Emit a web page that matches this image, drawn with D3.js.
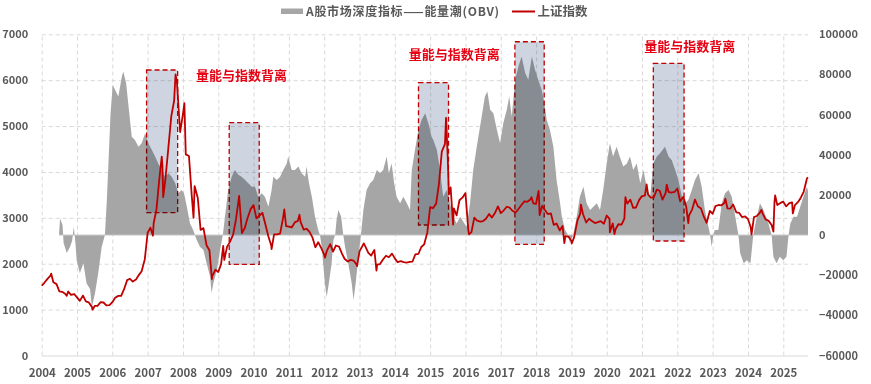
<!DOCTYPE html>
<html>
<head>
<meta charset="utf-8">
<script src="https://cdn.jsdelivr.net/npm/d3@7"></script>
<style>
  body { margin: 0; background: #fff; }
  text { font-family: "Noto Sans CJK SC", "Noto Sans", sans-serif; }
</style>
</head>
<body>
<div id="container"></div>
<script>
/* CONSTANTS AND GLOBALS */
const width = 871,
      height = 384,
      margin = {top: 34.3, right: 63, bottom: 28.5, left: 41.7};

// year ticks and axis ticks
const yearTicks = d3.range(2004, 2026);
const leftTicks = [0, 1000, 2000, 3000, 4000, 5000, 6000, 7000];
const rightTicks = [-60000, -40000, -20000, 0, 20000, 40000, 60000, 80000, 100000];

// 上证指数 [decimal year, close]
const sse = [
  [2004.00,1520],[2004.08,1590],[2004.17,1675],[2004.25,1742],[2004.27,1783],[2004.33,1595],[2004.42,1555],[2004.50,1399],[2004.58,1387],[2004.67,1342],[2004.71,1300],[2004.75,1396],[2004.83,1320],[2004.92,1340],
  [2005.00,1266],[2005.08,1191],[2005.17,1306],[2005.25,1181],[2005.33,1159],[2005.42,1060],[2005.44,998],[2005.50,1080],[2005.58,1083],[2005.67,1162],[2005.75,1155],[2005.83,1092],[2005.92,1099],
  [2006.00,1161],[2006.08,1258],[2006.17,1299],[2006.25,1298],[2006.33,1440],[2006.42,1642],[2006.50,1672],[2006.58,1612],[2006.67,1658],[2006.75,1752],[2006.83,1837],[2006.92,2099],
  [2007.00,2675],[2007.08,2786],[2007.15,2612],[2007.17,2881],[2007.25,3183],[2007.33,3841],[2007.40,4335],[2007.42,4109],[2007.44,3450],[2007.50,3820],[2007.58,4471],[2007.67,5218],[2007.75,5552],[2007.79,6124],[2007.83,5955],[2007.92,4871],
  [2008.00,5262],[2008.04,5500],[2008.08,4383],[2008.17,4348],[2008.25,3473],[2008.30,3000],[2008.33,3693],[2008.42,3433],[2008.50,2736],[2008.58,2776],[2008.67,2397],[2008.75,2293],[2008.82,1664],[2008.83,1729],[2008.92,1871],
  [2009.00,1821],[2009.08,1991],[2009.14,2390],[2009.17,2082],[2009.25,2373],[2009.33,2477],[2009.42,2633],[2009.50,2959],[2009.58,3412],[2009.59,3478],[2009.67,2667],[2009.75,2779],[2009.83,2996],[2009.92,3195],
  [2010.00,3277],[2010.08,2989],[2010.17,3051],[2010.25,3110],[2010.33,2870],[2010.42,2592],[2010.50,2398],[2010.51,2319],[2010.58,2638],[2010.67,2639],[2010.75,2656],[2010.83,2979],[2010.87,3186],[2010.92,2820],
  [2011.00,2808],[2011.08,2790],[2011.17,2905],[2011.25,2928],[2011.30,3067],[2011.33,2911],[2011.42,2743],[2011.50,2762],[2011.58,2701],[2011.67,2568],[2011.75,2359],[2011.83,2469],[2011.92,2333],
  [2012.00,2199],[2012.02,2132],[2012.08,2292],[2012.17,2428],[2012.25,2263],[2012.33,2397],[2012.42,2373],[2012.50,2225],[2012.58,2103],[2012.67,2047],[2012.75,2086],[2012.83,2069],[2012.92,1980],[2012.93,1949],
  [2013.00,2269],[2013.08,2385],[2013.12,2444],[2013.17,2366],[2013.25,2237],[2013.33,2178],[2013.42,2301],[2013.48,1849],[2013.50,1979],[2013.58,1994],[2013.67,2098],[2013.75,2175],[2013.83,2141],[2013.92,2220],
  [2014.00,2116],[2014.08,2033],[2014.17,2056],[2014.25,2033],[2014.33,2026],[2014.42,2039],[2014.50,2048],[2014.58,2202],[2014.67,2217],[2014.75,2364],[2014.83,2420],[2014.92,2683],
  [2015.00,3235],[2015.08,3210],[2015.17,3310],[2015.25,3748],[2015.33,4442],[2015.42,4612],[2015.45,5178],[2015.50,4277],[2015.53,3507],[2015.58,3664],[2015.65,2851],[2015.67,3206],[2015.75,3053],[2015.83,3383],[2015.92,3445],
  [2016.00,3539],[2016.08,2738],[2016.10,2638],[2016.17,2688],[2016.25,3004],[2016.33,2938],[2016.42,2917],[2016.50,2930],[2016.58,2979],[2016.67,3085],[2016.75,3005],[2016.83,3100],[2016.92,3250],
  [2017.00,3104],[2017.08,3159],[2017.17,3242],[2017.25,3223],[2017.33,3155],[2017.42,3117],[2017.50,3192],[2017.58,3273],[2017.67,3361],[2017.75,3349],[2017.83,3393],[2017.87,3450],[2017.92,3317],
  [2018.00,3307],[2018.07,3587],[2018.08,3481],[2018.10,3062],[2018.17,3259],[2018.25,3169],[2018.33,3082],[2018.42,3095],[2018.50,2847],[2018.58,2876],[2018.67,2725],[2018.75,2821],[2018.80,2449],[2018.83,2603],[2018.92,2588],
  [2019.00,2494],[2019.01,2440],[2019.08,2585],[2019.17,2941],[2019.25,3091],[2019.27,3288],[2019.33,3078],[2019.42,2899],[2019.50,2979],[2019.58,2933],[2019.67,2886],[2019.75,2905],[2019.83,2929],[2019.92,2871],
  [2020.00,3050],[2020.08,2977],[2020.09,2685],[2020.17,2880],[2020.22,2647],[2020.25,2750],[2020.33,2860],[2020.42,2852],[2020.50,2985],[2020.53,3451],[2020.58,3310],[2020.67,3396],[2020.75,3218],[2020.83,3225],[2020.92,3392],
  [2021.00,3473],[2021.08,3483],[2021.13,3731],[2021.17,3509],[2021.25,3442],[2021.33,3447],[2021.42,3615],[2021.50,3591],[2021.58,3397],[2021.67,3544],[2021.70,3723],[2021.75,3568],[2021.83,3547],[2021.92,3564],
  [2022.00,3640],[2022.08,3361],[2022.17,3462],[2022.25,3252],[2022.31,2886],[2022.33,3047],[2022.42,3186],[2022.50,3399],[2022.58,3253],[2022.67,3202],[2022.75,3024],[2022.83,2893],[2022.92,3151],
  [2023.00,3089],[2023.08,3255],[2023.17,3280],[2023.25,3273],[2023.33,3323],[2023.36,3418],[2023.42,3205],[2023.50,3202],[2023.58,3291],[2023.67,3120],[2023.75,3110],[2023.83,3018],[2023.92,3030],
  [2024.00,2975],[2024.08,2789],[2024.10,2635],[2024.17,3015],[2024.25,3041],[2024.33,3105],[2024.38,3174],[2024.42,3087],[2024.50,2967],[2024.58,2939],[2024.67,2842],[2024.72,2700],[2024.75,3336],[2024.77,3489],[2024.83,3279],[2024.92,3326],
  [2025.00,3352],[2025.08,3250],[2025.17,3321],[2025.25,3336],[2025.27,3096],[2025.33,3279],[2025.42,3347],[2025.50,3444],[2025.58,3573],[2025.67,3858],[2025.70,3880]
];

// 能量潮(OBV) [decimal year, value]
const obv = [
  [2004.49,0],[2004.52,8300],[2004.59,5000],[2004.62,-4000],[2004.71,-9000],[2004.80,-6000],[2004.86,-3000],[2004.91,4000],[2004.96,-5000],[2004.99,-12500],
  [2005.08,-19000],[2005.18,-14000],[2005.27,-24000],[2005.37,-27000],[2005.42,-36000],[2005.51,-29000],[2005.60,-19000],[2005.70,-5800],[2005.79,0],[2005.84,15800],[2005.89,35700],[2005.95,60700],
  [2006.01,74800],[2006.08,72300],[2006.17,69000],[2006.27,79000],[2006.31,81500],[2006.39,75800],[2006.45,65700],[2006.55,49000],[2006.64,47400],[2006.74,44000],[2006.83,45700],[2006.93,50700],
  [2007.02,45700],[2007.12,42400],[2007.21,39100],[2007.30,35700],[2007.40,32400],[2007.49,29100],[2007.59,30800],[2007.68,29100],[2007.78,25800],[2007.87,20800],[2007.96,22400],
  [2008.03,20800],[2008.11,14100],[2008.20,5800],[2008.29,2500],[2008.34,0],[2008.39,-2500],[2008.48,-5800],[2008.58,-7500],[2008.67,-14100],[2008.77,-20800],[2008.81,-29000],[2008.86,-24000],[2008.96,-17500],
  [2009.05,-7500],[2009.13,0],[2009.19,9100],[2009.28,22400],[2009.38,29100],[2009.47,32400],[2009.57,30000],[2009.66,29100],[2009.76,27400],[2009.85,25800],[2009.95,24100],
  [2010.04,24100],[2010.13,19100],[2010.23,20800],[2010.32,19100],[2010.42,14100],[2010.51,22400],[2010.56,29100],[2010.66,27400],[2010.75,29100],[2010.84,32400],[2010.94,35700],[2010.98,39100],
  [2011.08,32400],[2011.17,32400],[2011.27,34100],[2011.36,30800],[2011.46,29100],[2011.50,34100],[2011.57,25800],[2011.65,19100],[2011.74,9100],[2011.83,2500],[2011.88,0],[2011.93,-5800],[2011.97,-14100],
  [2012.02,-24100],[2012.07,-30800],[2012.13,-24100],[2012.21,-14100],[2012.26,-2500],[2012.31,0],[2012.35,7500],[2012.40,12500],[2012.48,9100],[2012.54,0],[2012.59,-5800],[2012.68,-14100],[2012.78,-24100],[2012.83,-32400],[2012.89,-24100],[2012.97,-10800],
  [2013.04,0],[2013.11,12500],[2013.20,22400],[2013.30,25800],[2013.39,27400],[2013.49,32400],[2013.58,30800],[2013.67,32400],[2013.77,39100],[2013.83,30800],[2013.91,35700],[2013.98,25800],
  [2014.05,19100],[2014.15,15800],[2014.24,19100],[2014.34,15800],[2014.43,12500],[2014.48,32400],[2014.57,42400],[2014.67,52400],[2014.76,57400],[2014.86,60700],[2014.95,55700],
  [2015.04,49000],[2015.09,47400],[2015.19,42400],[2015.28,32400],[2015.37,19100],[2015.47,22400],[2015.56,15800],[2015.66,9100],[2015.75,5800],[2015.85,9100],[2015.94,6600],
  [2016.03,4100],[2016.13,15800],[2016.22,32400],[2016.32,44000],[2016.46,59000],[2016.55,69000],[2016.62,71500],[2016.70,62400],[2016.79,60700],[2016.89,52400],[2016.98,45700],
  [2017.07,55700],[2017.17,62400],[2017.24,69000],[2017.31,59000],[2017.41,77300],[2017.50,84000],[2017.59,89000],[2017.69,80700],[2017.78,77300],[2017.88,89000],[2017.97,82400],
  [2018.06,77300],[2018.16,72300],[2018.25,64000],[2018.30,57400],[2018.39,52400],[2018.49,44000],[2018.58,27400],[2018.68,15800],[2018.73,9100],[2018.82,2500],[2018.91,0],[2018.96,-4000],
  [2019.05,0],[2019.15,9100],[2019.24,19100],[2019.34,24100],[2019.43,15800],[2019.53,12500],[2019.62,14100],[2019.72,15800],[2019.81,12500],[2019.90,22400],
  [2020.00,35700],[2020.09,45700],[2020.18,39100],[2020.28,44000],[2020.37,39000],[2020.47,34100],[2020.57,35700],[2020.66,39100],[2020.75,32400],[2020.85,35700],[2020.95,25800],
  [2021.04,32400],[2021.13,24100],[2021.23,19100],[2021.32,35700],[2021.42,39100],[2021.51,40700],[2021.65,44000],[2021.75,39100],[2021.84,37400],[2021.94,32400],
  [2022.03,27400],[2022.13,19100],[2022.22,15800],[2022.31,17500],[2022.41,22400],[2022.50,27400],[2022.60,30800],[2022.69,24100],[2022.78,12500],[2022.88,4100],[2022.93,0],[2022.97,-5800],
  [2023.02,0],[2023.06,2500],[2023.16,2500],[2023.26,15800],[2023.35,20800],[2023.45,22400],[2023.54,19100],[2023.64,9100],[2023.73,0],[2023.78,-9100],[2023.88,-14100],[2023.97,-12500],
  [2024.07,-14100],[2024.15,0],[2024.25,9100],[2024.34,15800],[2024.44,12500],[2024.58,5800],[2024.67,0],[2024.72,-10800],[2024.81,-14100],[2024.90,-10800],
  [2025.00,-12500],[2025.09,-10800],[2025.15,0],[2025.20,5800],[2025.29,9100],[2025.39,9100],[2025.48,14100],[2025.57,19100],[2025.67,24100],[2025.70,22000]
];

// 背离区间 [start year, end year, top, bottom] in index units
const divBoxes = [
  [2006.97, 2007.85, 6222, 3112],
  [2009.31, 2010.16, 5073, 1987],
  [2014.67, 2015.52, 5945, 2844],
  [2017.40, 2018.23, 6838, 2423],
  [2021.32, 2022.19, 6367, 2495]
];

// annotation labels [center year, baseline index value]
const noteText = "量能与指数背离";
const notes = [[2009.66, 6000], [2015.68, 6460], [2022.35, 6635]];

/* SCALES */
const xScale = d3.scaleLinear()
  .domain([2004, 2025.70])
  .range([margin.left, width - margin.right]);

const yLeft = d3.scaleLinear()
  .domain([0, 7000])
  .range([height - margin.bottom, margin.top]);

const yRight = d3.scaleLinear()
  .domain([-60000, 100000])
  .range([height - margin.bottom, margin.top]);

/* SVG */
const svg = d3.select("#container")
  .append("svg")
  .attr("width", width)
  .attr("height", height);

const plotW = width - margin.left - margin.right,
      plotH = height - margin.top - margin.bottom;

// AXES + GRIDLINES
const xAxis = d3.axisBottom(xScale)
  .tickValues(yearTicks)
  .tickFormat(d3.format("d"))
  .tickSize(-plotH)
  .tickPadding(13);

svg.append("g")
  .attr("class", "xAxis")
  .attr("transform", `translate(0, ${height - margin.bottom})`)
  .call(xAxis)
  .call(g => g.select(".domain").remove())
  .call(g => g.selectAll(".tick line")
    .attr("stroke", "#d9d9d9")
    .attr("stroke-dasharray", "4,3"))
  .call(g => g.selectAll(".tick text")
    .attr("fill", "#595959")
    .attr("font-size", 11.5)
    .attr("font-weight", "bold"));

const yAxisL = d3.axisLeft(yLeft)
  .tickValues(leftTicks)
  .tickFormat(d3.format("d"))
  .tickSize(-plotW)
  .tickPadding(13.5);

svg.append("g")
  .attr("class", "yAxis")
  .attr("transform", `translate(${margin.left}, 0)`)
  .call(yAxisL)
  .call(g => g.select(".domain").remove())
  .call(g => g.selectAll(".tick line")
    .attr("stroke", "#d9d9d9")
    .attr("stroke-dasharray", d => d === 0 ? null : "4,3"))
  .call(g => g.selectAll(".tick text")
    .attr("fill", "#595959")
    .attr("font-size", 11)
    .attr("font-weight", "bold"));

const yAxisR = d3.axisRight(yRight)
  .tickValues(rightTicks)
  .tickFormat(d3.format("d"))
  .tickSize(0)
  .tickPadding(11);

svg.append("g")
  .attr("class", "yAxisR")
  .attr("transform", `translate(${width - margin.right}, 0)`)
  .call(yAxisR)
  .call(g => g.select(".domain").remove())
  .call(g => g.selectAll(".tick text")
    .attr("fill", "#595959")
    .attr("font-size", 11)
    .attr("font-weight", "bold"));

// OBV AREA
const areaGen = d3.area()
  .x(d => xScale(d[0]))
  .y0(yRight(0))
  .y1(d => yRight(d[1]));

svg.append("path")
  .datum(obv)
  .attr("fill", "#a6a6a6")
  .attr("d", areaGen);

svg.append("line")
  .attr("x1", xScale(obv[0][0]))
  .attr("x2", xScale(obv[obv.length - 1][0]))
  .attr("y1", yRight(0))
  .attr("y2", yRight(0))
  .attr("stroke", "#c8c8c8")
  .attr("stroke-width", 1);

// DIVERGENCE BOXES
svg.selectAll("rect.box")
  .data(divBoxes)
  .join("rect")
  .attr("class", "box")
  .attr("x", d => xScale(d[0]))
  .attr("y", d => yLeft(d[2]))
  .attr("width", d => xScale(d[1]) - xScale(d[0]))
  .attr("height", d => yLeft(d[3]) - yLeft(d[2]))
  .attr("fill", "#cfd5e0")
  .style("mix-blend-mode", "multiply")
  .attr("stroke", "#c00000")
  .attr("stroke-width", 1.3)
  .attr("stroke-dasharray", "5,3");

// SSE LINE
const lineGen = d3.line()
  .x(d => xScale(d[0]))
  .y(d => yLeft(d[1]));

svg.append("path")
  .datum(sse)
  .attr("fill", "none")
  .attr("stroke", "#c00000")
  .attr("stroke-width", 1.8)
  .attr("stroke-linejoin", "round")
  .attr("d", lineGen);

// ANNOTATIONS
svg.selectAll("text.note")
  .data(notes)
  .join("text")
  .attr("class", "note")
  .attr("x", d => xScale(d[0]))
  .attr("y", d => yLeft(d[1]))
  .attr("text-anchor", "middle")
  .attr("fill", "#e60012")
  .attr("font-size", 13)
  .attr("font-weight", "bold")
  .text(noteText);

// LEGEND
const legend = svg.append("g");
legend.append("rect")
  .attr("x", 281).attr("y", 8.5).attr("width", 22).attr("height", 5.5)
  .attr("fill", "#a6a6a6");
legend.append("text")
  .attr("x", 306).attr("y", 15.5)
  .style("letter-spacing", "0.7px")
  .attr("fill", "#595959").attr("font-size", 12).attr("font-weight", "bold")
  .text("A股市场深度指标——能量潮(OBV)");
legend.append("line")
  .attr("x1", 512).attr("x2", 535).attr("y1", 11.5).attr("y2", 11.5)
  .attr("stroke", "#c00000").attr("stroke-width", 2);
legend.append("text")
  .attr("x", 537.5).attr("y", 15.5)
  .attr("fill", "#595959").attr("font-size", 12.5).attr("font-weight", "bold")
  .text("上证指数");
</script>
</body>
</html>
